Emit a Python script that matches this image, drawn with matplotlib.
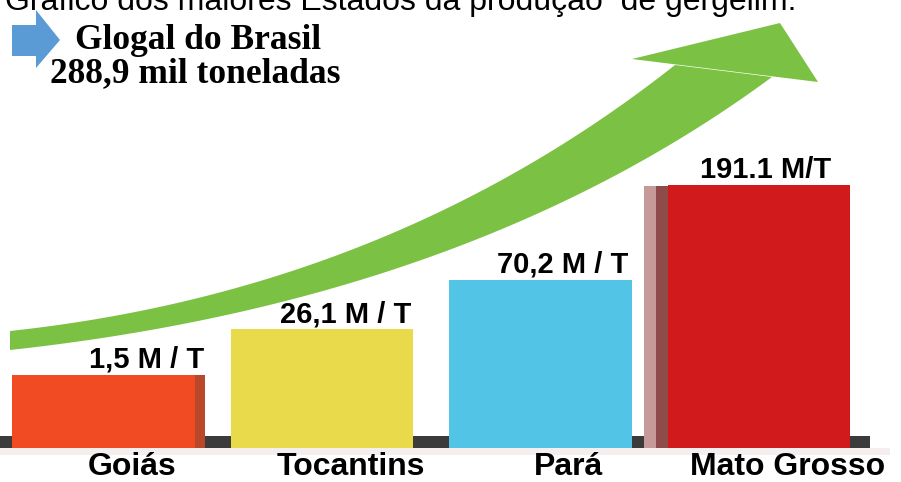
import matplotlib.pyplot as plt
import numpy as np
from matplotlib.patches import Polygon, Rectangle

# produção de gergelim por estado (mil toneladas)
estados = ["Goiás", "Tocantins", "Pará", "Mato Grosso"]
producao = [1.5, 26.1, 70.2, 191.1]
rotulos = ["1,5 M / T", "26,1 M / T", "70,2 M / T", "191.1 M/T"]
cores = ["#f04b22", "#e9da4b", "#52c5e6", "#d01a1c"]

titulo = "Gráfico dos maiores Estados da produção  de gergelim."
total_linha1 = "Glogal do Brasil"
total_linha2 = "288,9 mil toneladas"

# deslocamento horizontal dos rótulos de valor (em unidades de categoria)
desloc_rotulo = [0.2, 0.11, 0.1, 0.03]

W, H = 901, 482
fig = plt.figure(figsize=(W / 100, H / 100), dpi=100)
fig.patch.set_facecolor("white")

# camada de fundo em pixels: seta verde, chão e textos do topo
bg = fig.add_axes([0, 0, 1, 1])
bg.set_xlim(0, W)
bg.set_ylim(H, 0)
bg.axis("off")


def bezier(p0, p1, p2, n=80):
    t = np.linspace(0, 1, n)[:, None]
    return (1 - t) ** 2 * np.array(p0) + 2 * t * (1 - t) * np.array(p1) + t ** 2 * np.array(p2)


verde = "#7bc143"
borda_sup = bezier((10, 331), (390, 290), (675, 65))
borda_inf = bezier((10, 350), (470, 300), (772, 77))
bg.add_patch(Polygon(np.vstack([borda_sup, borda_inf[::-1]]), closed=True, color=verde, lw=0))
bg.add_patch(Polygon([(632, 59), (780, 23), (818, 82)], closed=True, color=verde, lw=0))

# seta azul ao lado do total
bg.add_patch(Polygon([(12, 25), (36, 25), (36, 10), (60, 40), (36, 68), (36, 56), (12, 56)],
                     closed=True, color="#5b9bd5", lw=0))

bg.text(5, 10, titulo, fontsize=23, family="Liberation Sans", va="baseline", ha="left")
bg.text(75, 49, total_linha1, fontsize=25.5, family="Liberation Serif", weight="bold", va="baseline")
bg.text(50, 82, total_linha2, fontsize=25.5, family="Liberation Serif", weight="bold", va="baseline")

# chão escuro atrás das barras e sombra clara embaixo
bg.add_patch(Rectangle((0, 436), 870, 12, color="#3b3b3b", lw=0))
bg.add_patch(Rectangle((0, 448), 890, 7, color="#f4eeee", lw=0))

# barras numa escala de potência para que os estados pequenos apareçam
P = 0.65


def fwd(v):
    return np.sign(v) * np.abs(v) ** P


def inv(u):
    return np.sign(u) * np.abs(u) ** (1 / P)


BASE = -34
largura = 0.835
ax = fig.add_axes([0, 34 / H, 1, (448 - 185) / H])
ax.patch.set_alpha(0)
ax.set_yscale("function", functions=(fwd, inv))
ax.set_ylim(BASE, max(producao))
ax.set_xlim(-0.473, 3.649)
ax.axis("off")

pos = np.arange(len(estados))
valores = np.array(producao)
ax.bar(pos, valores - BASE, bottom=BASE, width=largura, color=cores, zorder=3)

# faces laterais para dar volume
ax.bar(pos[0] + largura / 2 + 0.023, valores[0] - BASE, bottom=BASE, width=0.046,
       color="#b9482a", zorder=2)
ax.bar(pos[3] - largura / 2 - 0.028, valores[3] - 1 - BASE, bottom=BASE, width=0.056,
       color="#8f4a4a", zorder=2)
ax.bar(pos[3] - largura / 2 - 0.083, valores[3] - 1 - BASE, bottom=BASE, width=0.056,
       color="#c79a9a", zorder=2)

for x, v, r, d in zip(pos, valores, rotulos, desloc_rotulo):
    ax.annotate(r, (x + d, v), xytext=(0, 7), textcoords="offset pixels",
                ha="center", va="baseline", fontsize=21, weight="bold",
                family="Liberation Sans", annotation_clip=False)

for x, nome in zip(pos, estados):
    ax.annotate(nome, (x + 0.13, 7), xycoords=("data", "figure pixels"),
                ha="center", va="baseline", fontsize=23, weight="bold",
                family="Liberation Sans", annotation_clip=False)

fig.savefig("out.png", dpi=100)
